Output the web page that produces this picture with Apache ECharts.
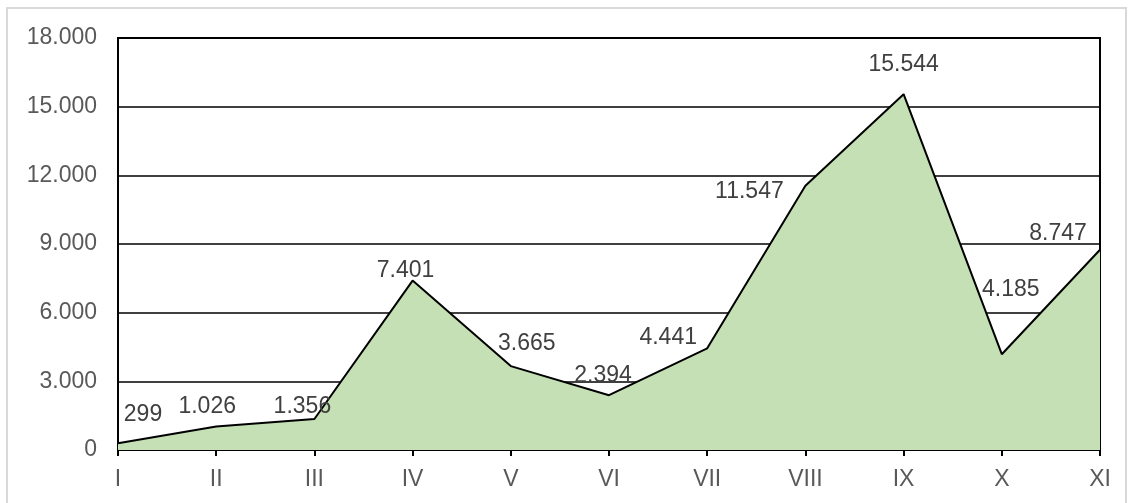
<!DOCTYPE html>
<html>
<head>
<meta charset="utf-8">
<script src="https://cdn.jsdelivr.net/npm/echarts@6/dist/echarts.min.js"></script>
<style>
  html, body { margin: 0; padding: 0; background: #fff; }
  #frame { position: absolute; left: 6px; top: 7px; width: 1121px; height: 500px; border: 2px solid #d9d9d9; box-sizing: border-box; }
  #main { position: absolute; left: 0; top: 0; width: 1136px; height: 503px; }
</style>
</head>
<body>
<div id="frame"></div>
<div id="main"></div>
<script>
var months = ['I', 'II', 'III', 'IV', 'V', 'VI', 'VII', 'VIII', 'IX', 'X', 'XI'];
var values = [299, 1026, 1356, 7401, 3665, 2394, 4441, 11547, 15544, 4185, 8747];
var yTicks = [0, 3000, 6000, 9000, 12000, 15000, 18000];

// where each value label sits relative to its point (like Excel placed them)
var labelShift = [[25, -12], [-9, -3], [-12, 4], [-7, 7], [16, -6], [-6, -3],
                  [-39, 6], [-56, 22], [0, -13], [9, -48], [-42, 0]];

function fmt(v) {
    return String(v).replace(/\B(?=(\d{3})+(?!\d))/g, '.');
}

var seriesData = values.map(function (v, i) {
    return { value: v, label: { offset: labelShift[i] } };
});

var txt = { color: '#595959', fontSize: 23, fontFamily: 'Liberation Sans, Arial' };

var myChart = echarts.init(document.getElementById('main'));
var option = {
    animation: false,
    grid: {
        left: 118, right: 36, top: 38, bottom: 53,
        show: true, borderColor: '#000', borderWidth: 2, backgroundColor: 'transparent'
    },
    xAxis: {
        type: 'category',
        data: months,
        boundaryGap: false,
        axisLine: { lineStyle: { color: '#000', width: 2 } },
        axisTick: { show: true, length: 6, lineStyle: { color: '#000', width: 2 } },
        axisLabel: { color: txt.color, fontSize: txt.fontSize, fontFamily: txt.fontFamily, margin: 18 },
        splitLine: { show: false }
    },
    yAxis: {
        type: 'value',
        min: yTicks[0],
        max: yTicks[yTicks.length - 1],
        interval: 3000,
        axisLine: { show: true, lineStyle: { color: '#000', width: 2 } },
        axisTick: { show: false },
        axisLabel: {
            color: txt.color, fontSize: txt.fontSize, fontFamily: txt.fontFamily, margin: 21,
            formatter: function (v) { return fmt(v); }
        },
        splitLine: { lineStyle: { color: '#000', width: 1.5 } }
    },
    series: [{
        type: 'line',
        data: seriesData,
        symbol: 'circle',
        symbolSize: 0,
        showSymbol: true,
        lineStyle: { color: '#000', width: 2 },
        itemStyle: { color: '#000' },
        areaStyle: { color: '#c5e0b4', opacity: 1 },
        label: {
            show: true,
            position: 'top',
            distance: 5,
            color: '#404040',
            fontSize: txt.fontSize,
            fontFamily: txt.fontFamily,
            formatter: function (p) { return fmt(p.value); }
        }
    }]
};
myChart.setOption(option);
</script>
</body>
</html>
